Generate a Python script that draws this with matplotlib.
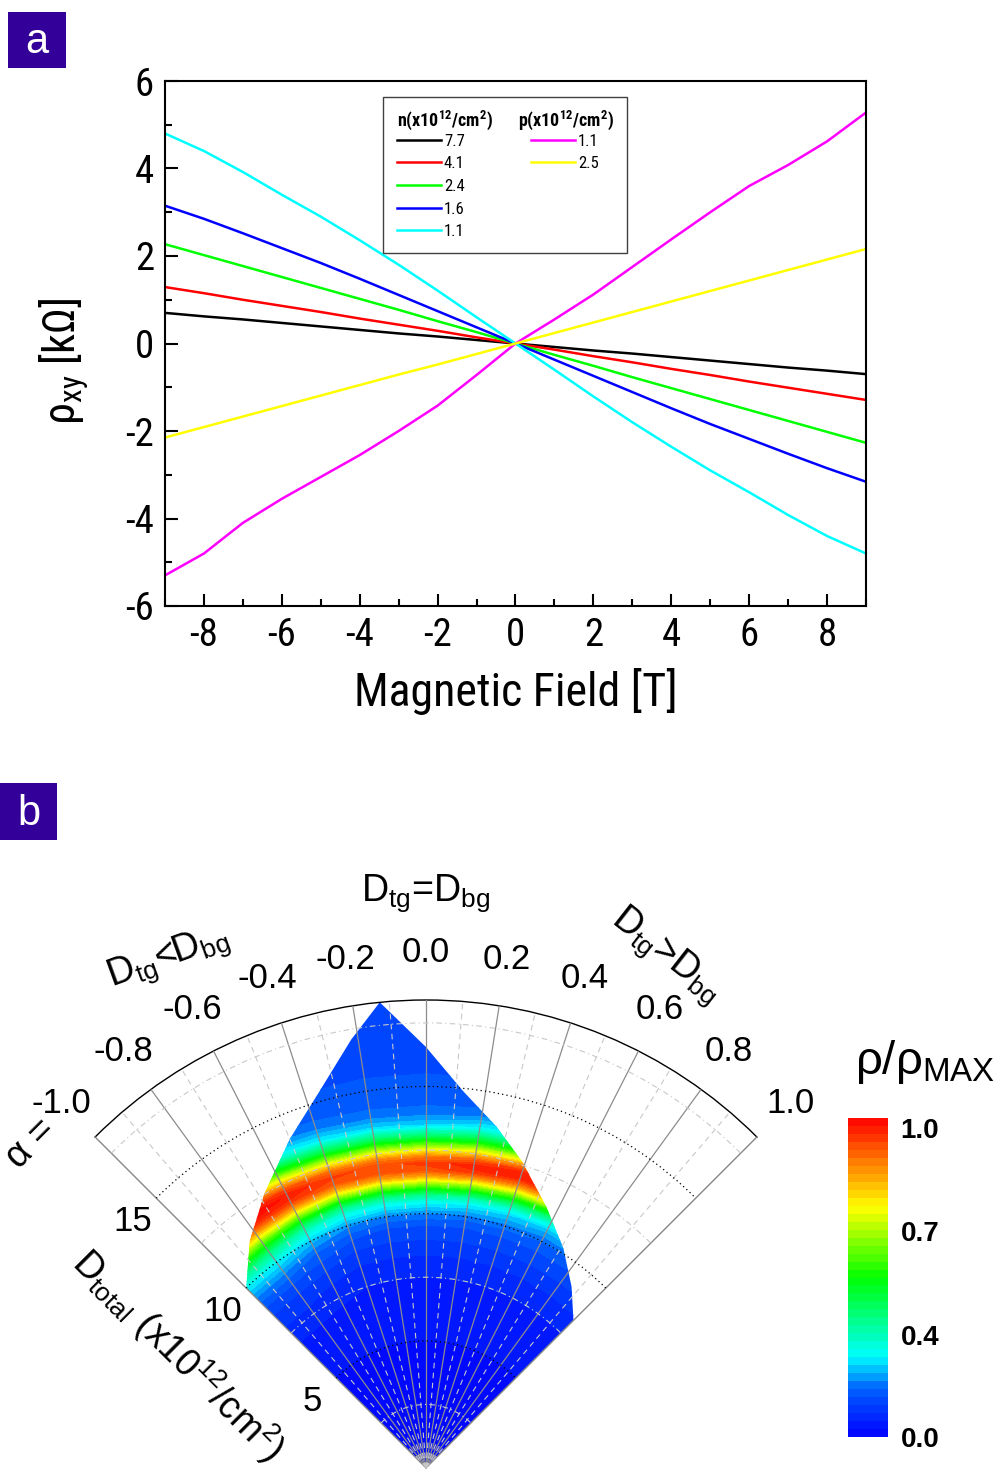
import matplotlib
matplotlib.use("Agg")
import matplotlib.pyplot as plt
import numpy as np
from matplotlib import font_manager
from matplotlib.colors import LinearSegmentedColormap
from matplotlib.lines import Line2D
from matplotlib.patches import Polygon, Rectangle

names = {f.name for f in font_manager.fontManager.ttflist}
SANS = "Liberation Sans"
NARROW = SANS
SCALE = 0.86  # no narrow face: shrink panel-a text so widths match
for cand in ["Liberation Sans Narrow", "Arial Narrow", "Roboto Condensed", "Open Sans Condensed"]:
    if cand in names:
        NARROW, SCALE = cand, 1.0
        break

plt.rcParams["font.family"] = [SANS, "DejaVu Sans"]
plt.rcParams["mathtext.fontset"] = "custom"
plt.rcParams["mathtext.rm"] = SANS
plt.rcParams["mathtext.default"] = "regular"
plt.rcParams["axes.unicode_minus"] = False

# ---- panel a: Hall resistivity vs field ----
field = [-9, -8, -7, -6, -5, -4, -3, -2, -1, 0, 1, 2, 3, 4, 5, 6, 7, 8, 9]
n77 = [0.70, 0.62, 0.55, 0.47, 0.39, 0.31, 0.23, 0.16, 0.08, 0.0, -0.08, -0.16, -0.23, -0.31, -0.39, -0.47, -0.55, -0.62, -0.70]
n41 = [1.29, 1.15, 1.00, 0.86, 0.72, 0.57, 0.43, 0.29, 0.14, 0.0, -0.14, -0.29, -0.43, -0.58, -0.72, -0.87, -1.01, -1.15, -1.29]
n24 = [2.27, 2.02, 1.77, 1.52, 1.27, 1.02, 0.77, 0.51, 0.26, 0.0, -0.26, -0.51, -0.77, -1.02, -1.27, -1.52, -1.77, -2.02, -2.27]
n16 = [3.15, 2.85, 2.52, 2.18, 1.84, 1.48, 1.11, 0.74, 0.37, 0.0, -0.37, -0.74, -1.11, -1.48, -1.84, -2.18, -2.52, -2.85, -3.16]
n11 = [4.80, 4.40, 3.92, 3.40, 2.90, 2.36, 1.80, 1.21, 0.60, 0.0, -0.60, -1.21, -1.80, -2.36, -2.90, -3.40, -3.92, -4.40, -4.80]
p11 = [-5.30, -4.80, -4.10, -3.55, -3.05, -2.55, -2.00, -1.42, -0.72, 0.0, 0.55, 1.12, 1.75, 2.38, 3.00, 3.60, 4.08, 4.62, 5.28]
p25 = [-2.15, -1.91, -1.67, -1.43, -1.19, -0.95, -0.71, -0.48, -0.24, 0.0, 0.24, 0.48, 0.72, 0.96, 1.20, 1.44, 1.68, 1.92, 2.16]

n_series = [(n77, "black", "7.7"), (n41, "#ff0000", "4.1"), (n24, "#00ff00", "2.4"),
            (n16, "#0000ff", "1.6"), (n11, "#00ffff", "1.1")]
p_series = [(p11, "#ff00ff", "1.1"), (p25, "#ffff00", "2.5")]

# ---- panel b: resistivity map, alpha vs D_total ----
alpha_nodes = [-1.0, -0.8, -0.6, -0.4, -0.2, 0.0, 0.2, 0.4, 0.6, 0.8, 1.0]
d_nodes = [0, 2, 4, 6, 7, 8, 8.5, 9, 9.5, 10, 10.5, 10.75, 11, 11.25, 11.5, 11.75,
           12, 12.25, 12.5, 12.75, 13, 13.5, 14, 14.5, 15, 16, 17, 18.4]
rho_ratio = [
    [0.00, 0.00, 0.00, 0.00, 0.00, 0.00, 0.00, 0.00, 0.00, 0.00, 0.00],
    [0.01, 0.01, 0.01, 0.01, 0.01, 0.01, 0.01, 0.01, 0.01, 0.01, 0.01],
    [0.02, 0.02, 0.02, 0.02, 0.02, 0.02, 0.02, 0.02, 0.02, 0.02, 0.02],
    [0.03, 0.03, 0.03, 0.03, 0.03, 0.03, 0.03, 0.03, 0.03, 0.03, 0.03],
    [0.05, 0.05, 0.045, 0.04, 0.04, 0.04, 0.04, 0.04, 0.04, 0.04, 0.04],
    [0.08, 0.08, 0.07, 0.06, 0.06, 0.06, 0.06, 0.06, 0.06, 0.06, 0.06],
    [0.10, 0.10, 0.09, 0.08, 0.08, 0.08, 0.08, 0.08, 0.08, 0.08, 0.08],
    [0.13, 0.13, 0.12, 0.10, 0.10, 0.10, 0.10, 0.10, 0.10, 0.10, 0.10],
    [0.18, 0.18, 0.15, 0.13, 0.12, 0.12, 0.12, 0.12, 0.12, 0.12, 0.12],
    [0.25, 0.25, 0.21, 0.18, 0.17, 0.17, 0.16, 0.16, 0.15, 0.15, 0.15],
    [0.38, 0.38, 0.32, 0.28, 0.27, 0.27, 0.25, 0.23, 0.21, 0.21, 0.21],
    [0.48, 0.48, 0.42, 0.37, 0.36, 0.36, 0.33, 0.30, 0.27, 0.27, 0.27],
    [0.60, 0.60, 0.55, 0.50, 0.50, 0.50, 0.47, 0.42, 0.37, 0.37, 0.37],
    [0.74, 0.74, 0.70, 0.66, 0.66, 0.66, 0.63, 0.57, 0.51, 0.51, 0.51],
    [0.87, 0.87, 0.84, 0.81, 0.82, 0.82, 0.80, 0.74, 0.68, 0.68, 0.68],
    [0.96, 0.96, 0.94, 0.91, 0.91, 0.92, 0.93, 0.88, 0.84, 0.84, 0.84],
    [1.00, 1.00, 0.97, 0.93, 0.92, 0.93, 0.97, 0.97, 0.95, 0.95, 0.95],
    [0.97, 0.97, 0.92, 0.87, 0.86, 0.86, 0.90, 0.95, 0.97, 0.97, 0.97],
    [0.88, 0.88, 0.80, 0.74, 0.72, 0.72, 0.77, 0.84, 0.88, 0.88, 0.88],
    [0.76, 0.76, 0.66, 0.59, 0.57, 0.57, 0.62, 0.68, 0.73, 0.73, 0.73],
    [0.62, 0.62, 0.52, 0.45, 0.43, 0.42, 0.47, 0.53, 0.58, 0.58, 0.58],
    [0.38, 0.38, 0.30, 0.25, 0.23, 0.22, 0.26, 0.30, 0.33, 0.33, 0.33],
    [0.22, 0.22, 0.19, 0.17, 0.16, 0.16, 0.17, 0.19, 0.20, 0.20, 0.20],
    [0.16, 0.16, 0.15, 0.14, 0.14, 0.14, 0.14, 0.15, 0.15, 0.15, 0.15],
    [0.14, 0.14, 0.13, 0.13, 0.13, 0.13, 0.13, 0.13, 0.13, 0.13, 0.13],
    [0.13, 0.13, 0.13, 0.12, 0.12, 0.12, 0.12, 0.12, 0.12, 0.12, 0.12],
    [0.12, 0.12, 0.12, 0.12, 0.12, 0.12, 0.12, 0.12, 0.12, 0.12, 0.12],
    [0.12, 0.12, 0.12, 0.12, 0.12, 0.12, 0.12, 0.12, 0.12, 0.12, 0.12],
]
# outline of the measured region (alpha, D_total)
edge_alpha = [-1.0, -1.0, -0.84, -0.68, -0.5, -0.35, -0.22, -0.126, 0.0, 0.124,
              0.26, 0.39, 0.55, 0.71, 0.86, 1.0, 1.0]
edge_d = [0.0, 10.0, 11.3, 12.5, 14.0, 15.4, 17.1, 18.4, 16.55, 14.9,
          13.7, 12.6, 11.3, 10.2, 9.15, 8.2, 0.0]

alpha_ticks = [-1.0, -0.8, -0.6, -0.4, -0.2, 0.0, 0.2, 0.4, 0.6, 0.8, 1.0]
alpha_minor = [-0.9, -0.7, -0.5, -0.3, -0.1, 0.1, 0.3, 0.5, 0.7, 0.9]
d_ticks = [5, 10, 15]
d_minor = [2.5, 7.5, 12.5, 17.5]
D_MAX = 18.4

cb_ticks = [0.0, 0.32, 0.645, 0.97]
cb_labels = ["0.0", "0.4", "0.7", "1.0"]

W, H = 1004, 1470
fig = plt.figure(figsize=(W / 100, H / 100), dpi=100)


def fx(x):
    return x / W


def fy(y):
    return 1 - y / H


# panel letters
for x0, y0, x1, y1, s in [(8, 12, 66, 68, "a"), (0, 783, 57, 840, "b")]:
    fig.add_artist(Rectangle((fx(x0), fy(y1)), (x1 - x0) / W, (y1 - y0) / H,
                             transform=fig.transFigure, color="#330099", lw=0))
    fig.text(fx((x0 + x1) / 2), fy((y0 + y1) / 2 + 2), s, color="white",
             fontsize=30, ha="center", va="center")

# ================= panel a =================
nfam = [NARROW, "DejaVu Sans"]
ax = fig.add_axes([fx(165), fy(606), 701 / W, 525 / H])
for vals, c, lab in n_series + p_series:
    ax.plot(field, vals, color=c, lw=1.8)

ax.set_xlim(-9, 9)
ax.set_ylim(-6, 6)
ax.set_xticks(range(-8, 9, 2))
ax.set_xticks(range(-9, 10), minor=True)
ax.set_yticks(range(-6, 7, 2))
ax.set_yticks(range(-6, 7), minor=True)
ax.tick_params(which="major", direction="in", length=9, width=1.5,
               labelsize=28 * SCALE, pad=8)
ax.tick_params(which="minor", direction="in", length=5, width=1.5)
for lab in ax.get_xticklabels() + ax.get_yticklabels():
    lab.set_family(nfam)
for sp in ax.spines.values():
    sp.set_linewidth(1.5)

ax.set_xlabel("Magnetic Field [T]", fontsize=33 * SCALE, family=nfam, labelpad=10)
ax.set_ylabel("ρ$_{xy}$ [kΩ]", fontsize=32 * SCALE, family=nfam)
ax.yaxis.set_label_coords(-0.107, 0.466)

blank = Line2D([], [], lw=0)
handles = [blank] + [Line2D([], [], color=c, lw=1.8) for _, c, _ in n_series]
labels = [" "] + [lab for _, _, lab in n_series]
handles += [blank] + [Line2D([], [], color=c, lw=1.8) for _, c, _ in p_series] + [blank] * 3
labels += [" "] + [lab for _, _, lab in p_series] + [" " * 9, " ", " "]
leg = ax.legend(handles, labels, ncol=2, loc="upper left", bbox_to_anchor=(0.311, 0.970),
                borderaxespad=0, fancybox=False, edgecolor="#404040", framealpha=1,
                prop={"family": nfam, "size": 12 * SCALE},
                handlelength=2.6, handletextpad=0.2, labelspacing=0.46,
                columnspacing=4.0, borderpad=0.85)
leg.get_frame().set_linewidth(1.0)
for xh, txt in [(0.331, "n(x10$^{12}$/cm$^{2}$)"), (0.503, "p(x10$^{12}$/cm$^{2}$)")]:
    ax.text(xh, 0.925, txt, transform=ax.transAxes, fontsize=13 * SCALE,
            weight="bold", family=nfam, va="center", zorder=6)

# ================= panel b =================
cmap = LinearSegmentedColormap.from_list(
    "rho", [(0.0, "#0000ff"), (0.15, "#0060ff"), (0.25, "#00ffff"),
            (0.5, "#00ff00"), (0.72, "#ffff00"), (1.0, "#ff0000")])

# wedge of radius R_PX centred at (426, 1468); polar axes box is square
R_PX = 468
half = R_PX * np.sin(np.pi / 4)
ymid = 1468 - R_PX / 2
pax = fig.add_axes([fx(426 - half), fy(ymid + half), 2 * half / W, 2 * half / H],
                   projection="polar")
pax.set_theta_zero_location("N")
pax.set_theta_direction(-1)
pax.set_thetamin(-45)
pax.set_thetamax(45)
pax.set_rlim(0, D_MAX)

to_theta = np.pi / 4
T, Rg = np.meshgrid(np.array(alpha_nodes) * to_theta, d_nodes)
cs = pax.contourf(T, Rg, np.array(rho_ratio), levels=np.linspace(0, 1, 41),
                  cmap=cmap, zorder=1)
clip = Polygon(np.column_stack([np.array(edge_alpha) * to_theta, edge_d]), closed=True,
               transform=pax.transData, facecolor="none", edgecolor="none")
pax.add_patch(clip)
cs.set_clip_path(clip)

pax.set_axisbelow(False)
pax.set_xticks(np.array(alpha_ticks) * to_theta)
pax.set_xticks(np.array(alpha_minor) * to_theta, minor=True)
pax.set_xticklabels([])
pax.set_yticks(d_ticks)
pax.set_yticks(d_minor, minor=True)
pax.set_yticklabels([])
pax.xaxis.grid(True, which="major", color="#8c8c8c", lw=0.9, ls="-")
pax.xaxis.grid(True, which="minor", color="#c8c8c8", lw=0.8, ls=(0, (5, 4)))
pax.yaxis.grid(True, which="major", color="black", lw=0.9, ls=(0, (1, 2.5)))
pax.yaxis.grid(True, which="minor", color="#c8c8c8", lw=0.8, ls=(0, (5, 3, 1, 3)))
pax.tick_params(axis="x", which="major", direction="in", length=5, width=0.8, color="black")
pax.tick_params(axis="x", which="minor", direction="in", length=3, width=0.8, color="black")
pax.tick_params(axis="y", which="both", length=0)
pax.spines["polar"].set(color="black", lw=1.0)
pax.spines["start"].set(color="#888888", lw=0.9)
pax.spines["end"].set(color="#888888", lw=0.9)
pax.spines["inner"].set_visible(False)

for a in alpha_ticks:
    pax.text(a * to_theta, 20.25, f"{a:.1f}", ha="center", va="center", fontsize=25,
             clip_on=False)
for d in d_ticks:
    pax.annotate(str(d), xy=(-np.pi / 4, d), xytext=(-17, -17), textcoords="offset points",
                 ha="center", va="center", fontsize=25, annotation_clip=False)

fig.text(fx(426), fy(893), "D$_{tg}$=D$_{bg}$", fontsize=27, ha="center", va="center")
fig.text(fx(168), fy(958), "D$_{tg}$<D$_{bg}$", fontsize=27, ha="center", va="center",
         rotation=20)
fig.text(fx(666), fy(955), "D$_{tg}$>D$_{bg}$", fontsize=27, ha="center", va="center",
         rotation=-38)
fig.text(fx(31), fy(1144), "α =", fontsize=27, ha="center", va="center", rotation=45)
fig.text(fx(178), fy(1355), "D$_{total}$ (x10$^{12}$/cm$^{2}$)", fontsize=27,
         ha="center", va="center", rotation=-45)
fig.text(fx(925), fy(1062), "ρ/ρ$_{MAX}$", fontsize=34, ha="center", va="center")

cax = fig.add_axes([fx(848), fy(1437), 40 / W, 319 / H])
cb = fig.colorbar(cs, cax=cax)
cb.outline.set_visible(False)
cb.set_ticks(cb_ticks)
cb.set_ticklabels(cb_labels)
cb.ax.tick_params(length=0, pad=9, labelsize=20)
for lab in cb.ax.get_yticklabels():
    lab.set_weight("bold")

fig.savefig("out.png", dpi=100)
